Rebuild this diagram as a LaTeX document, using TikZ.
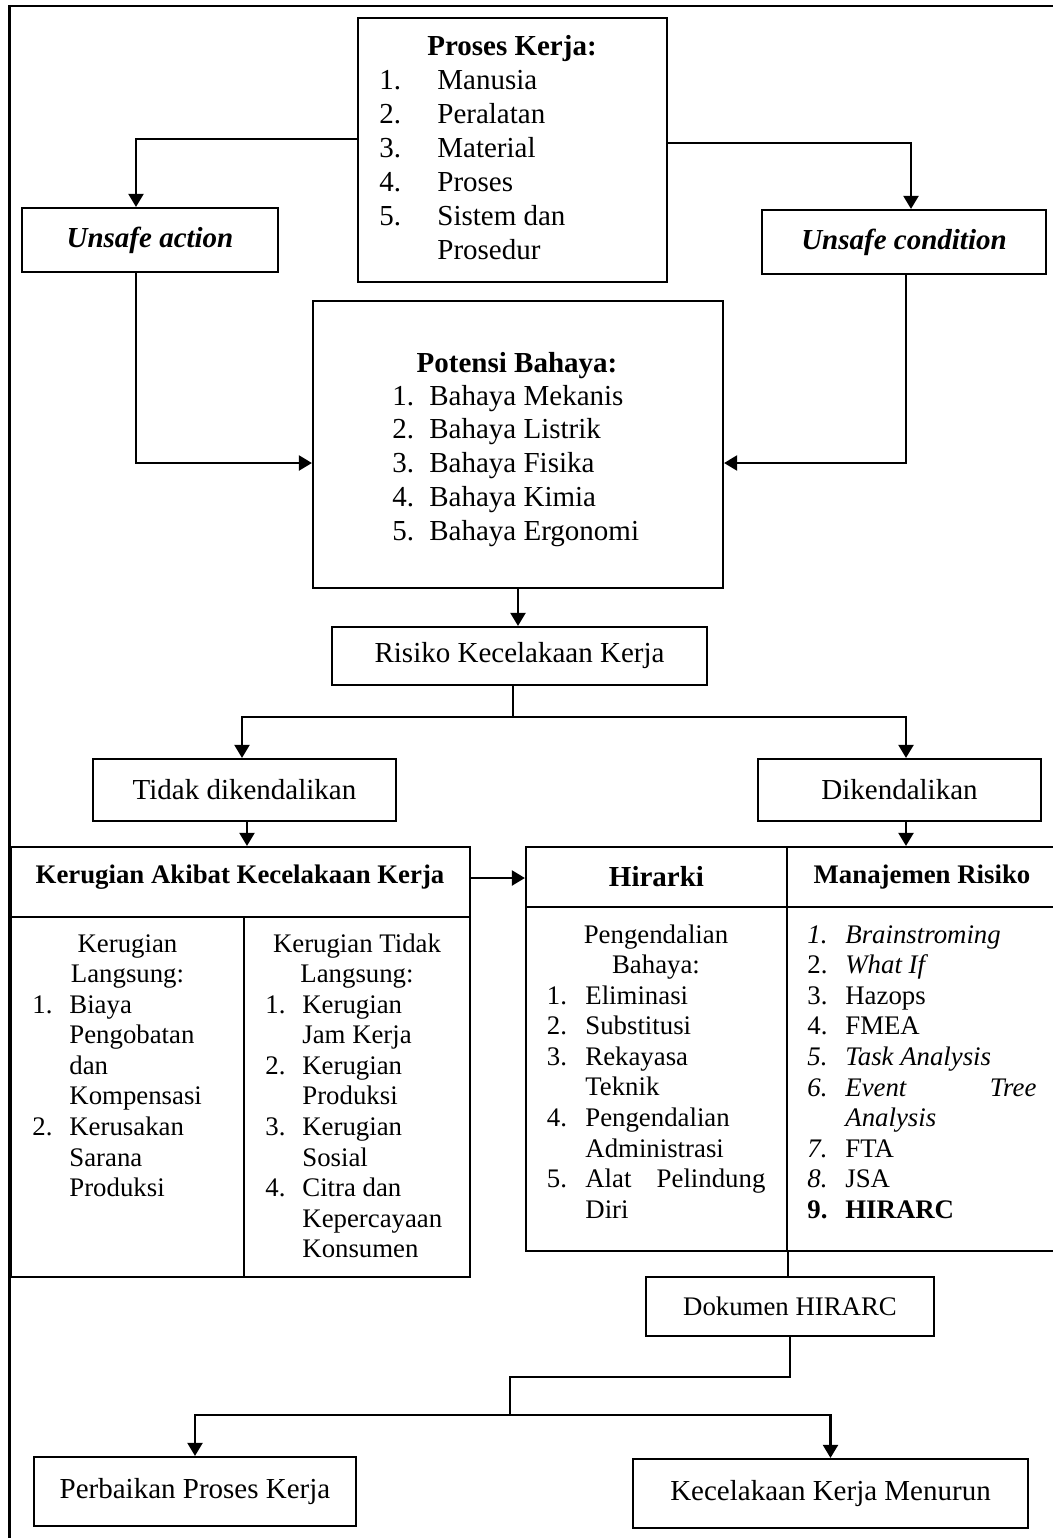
\documentclass[tikz,border=0pt]{standalone}
\usepackage{fontspec}
\setmainfont{Liberation Serif}
\usetikzlibrary{arrows.meta}
\newcommand\fsz[1]{\fontsize{14.5pt}{#1}\selectfont}
\newcommand\tsz{\fontsize{13.4pt}{15.3pt}\selectfont}
\begin{document}
\begin{tikzpicture}[x=0.5pt,y=-0.5pt,
  box/.style={draw, line width=1.1pt, rectangle, inner sep=0pt, font=\fsz{15.3pt}},
  txt/.style={inner sep=0pt, font=\fsz{15.3pt}},
  ttxt/.style={inner sep=0pt, font=\tsz},
  conn/.style={line width=1.1pt},
  arr/.style={line width=1.1pt, -{Triangle[length=6.5pt,width=7.5pt]}}]
\useasboundingbox (0,0) rectangle (1053,1538);
\coordinate (fa) at (1060,6);
\coordinate (fb) at (9.5,6);
\coordinate (fc) at (9.5,1545);
\draw[conn] (fa) -- (fb) -- (fc);

% Proses Kerja
\node[box, minimum width=154.5pt, minimum height=132pt] (proses) at (512.5,150) {};
\node[txt, anchor=base, font={\fsz{17pt}\bfseries}] (prosesT) at (512,55) {Proses Kerja:};
\node[txt, anchor=base west] (prosesL) at (379,89) {\fsz{17pt}\begin{tabular}[t]{@{}p{29pt}@{}l@{}}1.&Manusia\\2.&Peralatan\\3.&Material\\4.&Proses\\5.&Sistem dan\\&Prosedur\end{tabular}};

% Unsafe
\node[box, minimum width=128pt, minimum height=32pt, font={\fsz{15.3pt}\bfseries\itshape}] (ua) at (150,240) {Unsafe action};
\node[box, minimum width=142pt, minimum height=32pt, font={\fsz{15.3pt}\bfseries\itshape}] (uc) at (904,242) {Unsafe condition};

% Potensi Bahaya
\node[box, minimum width=205pt, minimum height=143.5pt] (pot) at (518,444.5) {};
\node[txt, anchor=base, font={\fsz{17pt}\bfseries}] (potT) at (517,372) {Potensi Bahaya:};
\node[txt, anchor=base west] (potL) at (392,405) {\fsz{16.875pt}\begin{tabular}[t]{@{}p{18.5pt}@{}l@{}}1.&Bahaya Mekanis\\2.&Bahaya Listrik\\3.&Bahaya Fisika\\4.&Bahaya Kimia\\5.&Bahaya Ergonomi\end{tabular}};

% Risiko
\node[box, minimum width=187.5pt, minimum height=29pt] (risk) at (519.5,656) {Risiko Kecelakaan Kerja};
\node[box, minimum width=151.5pt, minimum height=31pt] (tidak) at (244.5,790) {Tidak dikendalikan};
\node[box, minimum width=141.5pt, minimum height=31pt] (dik) at (899.5,790) {Dikendalikan};

% Kerugian table
\node[box, minimum width=229.5pt, minimum height=35pt] (kerH) at (240.5,882) {};
\node[ttxt, anchor=base, font={\tsz\bfseries}] (kerT) at (240,883) {Kerugian Akibat Kecelakaan Kerja};
\node[box, minimum width=116.5pt, minimum height=180pt] (kerL) at (127.5,1097) {};
\node[box, minimum width=113pt, minimum height=180pt] (kerR) at (357,1097) {};
\node[ttxt, anchor=base] (kerLh) at (127.5,952) {\begin{tabular}[t]{@{}c@{}}Kerugian\\Langsung:\end{tabular}};
\node[ttxt, anchor=base west] (kerLl) at (32,1013) {\begin{tabular}[t]{@{}p{18.5pt}@{}l@{}}1.&Biaya\\&Pengobatan\\&dan\\&Kompensasi\\2.&Kerusakan\\&Sarana\\&Produksi\end{tabular}};
\node[ttxt, anchor=base] (kerRh) at (357,952) {\begin{tabular}[t]{@{}c@{}}Kerugian Tidak\\Langsung:\end{tabular}};
\node[ttxt, anchor=base west] (kerRl) at (265,1013) {\begin{tabular}[t]{@{}p{18.5pt}@{}l@{}}1.&Kerugian\\&Jam Kerja\\2.&Kerugian\\&Produksi\\3.&Kerugian\\&Sosial\\4.&Citra dan\\&Kepercayaan\\&Konsumen\end{tabular}};

% Hirarki / Manajemen table
\node[box, minimum width=130.5pt, minimum height=30pt, font={\fsz{15.3pt}\bfseries}] (hirH) at (656.5,877) {Hirarki};
\node[box, minimum width=134.5pt, minimum height=30pt] (manH) at (921.5,877) {};
\node[ttxt, anchor=base, font={\tsz\bfseries}] (manT) at (922,883) {Manajemen Risiko};
\node[box, minimum width=130.5pt, minimum height=172pt] (hirB) at (656.5,1079) {};
\node[box, minimum width=134.5pt, minimum height=172pt] (manB) at (921.5,1079) {};
\node[ttxt, anchor=base] (hirBh) at (656,943) {\begin{tabular}[t]{@{}c@{}}Pengendalian\\Bahaya:\end{tabular}};
\node[ttxt, anchor=base west] (hirBl) at (546.5,1004) {\begin{tabular}[t]{@{}p{19.25pt}@{}l@{}}1.&Eliminasi\\2.&Substitusi\\3.&Rekayasa\\&Teknik\\4.&Pengendalian\\&Administrasi\\5.&\makebox[90pt][l]{Alat\hfill Pelindung}\\&Diri\end{tabular}};
\node[ttxt, anchor=base west] (manL) at (807,943) {\begin{tabular}[t]{@{}p{19pt}@{}l@{}}\textit{1.}&\textit{Brainstroming}\\2.&\textit{What If}\\3.&Hazops\\4.&FMEA\\\textit{5.}&\textit{Task Analysis}\\\textit{6.}&\makebox[95.5pt][l]{\textit{Event}\hfill\textit{Tree}}\\&\textit{Analysis}\\\textit{7.}&FTA\\\textit{8.}&JSA\\\textbf{9.}&\textbf{HIRARC}\end{tabular}};

% Bottom
\node[box, minimum width=144pt, minimum height=29.5pt, font=\tsz] (dok) at (790,1306.5) {Dokumen HIRARC};
\node[box, minimum width=161pt, minimum height=34.5pt] (perb) at (195,1491.5) {Perbaikan Proses Kerja};
\node[box, minimum width=197.5pt, minimum height=34.5pt] (kec) at (830.5,1493.5) {Kecelakaan Kerja Menurun};

% Connectors
\draw[arr] ([yshift=5.5pt]proses.west) -| ([xshift=-7pt]ua.north);
\draw[arr] ([yshift=3.5pt]proses.east) -| ([xshift=3.5pt]uc.north);
\draw[arr] ([xshift=-7pt]ua.south) |- ([yshift=-9.25pt]pot.west);
\draw[arr] ([xshift=1pt]uc.south) |- ([yshift=-9.25pt]pot.east);
\draw[arr] (pot.south) -- (pot.south |- risk.north);
\coordinate (s1) at (513,717);
\draw[conn] (s1 |- risk.south) -- (s1);
\draw[arr] (s1) -| ([xshift=-1.25pt]tidak.north);
\draw[arr] (s1) -| ([xshift=3.25pt]dik.north);
\draw[arr] ([xshift=1.25pt]tidak.south) -- ([xshift=1.25pt]tidak.south |- kerH.north);
\draw[arr] ([xshift=3.25pt]dik.south) -- ([xshift=3.25pt]dik.south |- manH.north);
\draw[arr] ([yshift=2pt]kerH.east) -- ([yshift=2pt]kerH.east -| hirH.west);
\draw[conn] (hirB.south east) -- (hirB.south east |- dok.north);
\coordinate (s3) at (510,1377);
\coordinate (s2) at (510,1415);
\draw[conn] (dok.south) |- (s3) -- (s2);
\draw[arr] (s2) -| (perb.north);
\draw[arr] (s2) -| (kec.north);
\end{tikzpicture}
\end{document}
